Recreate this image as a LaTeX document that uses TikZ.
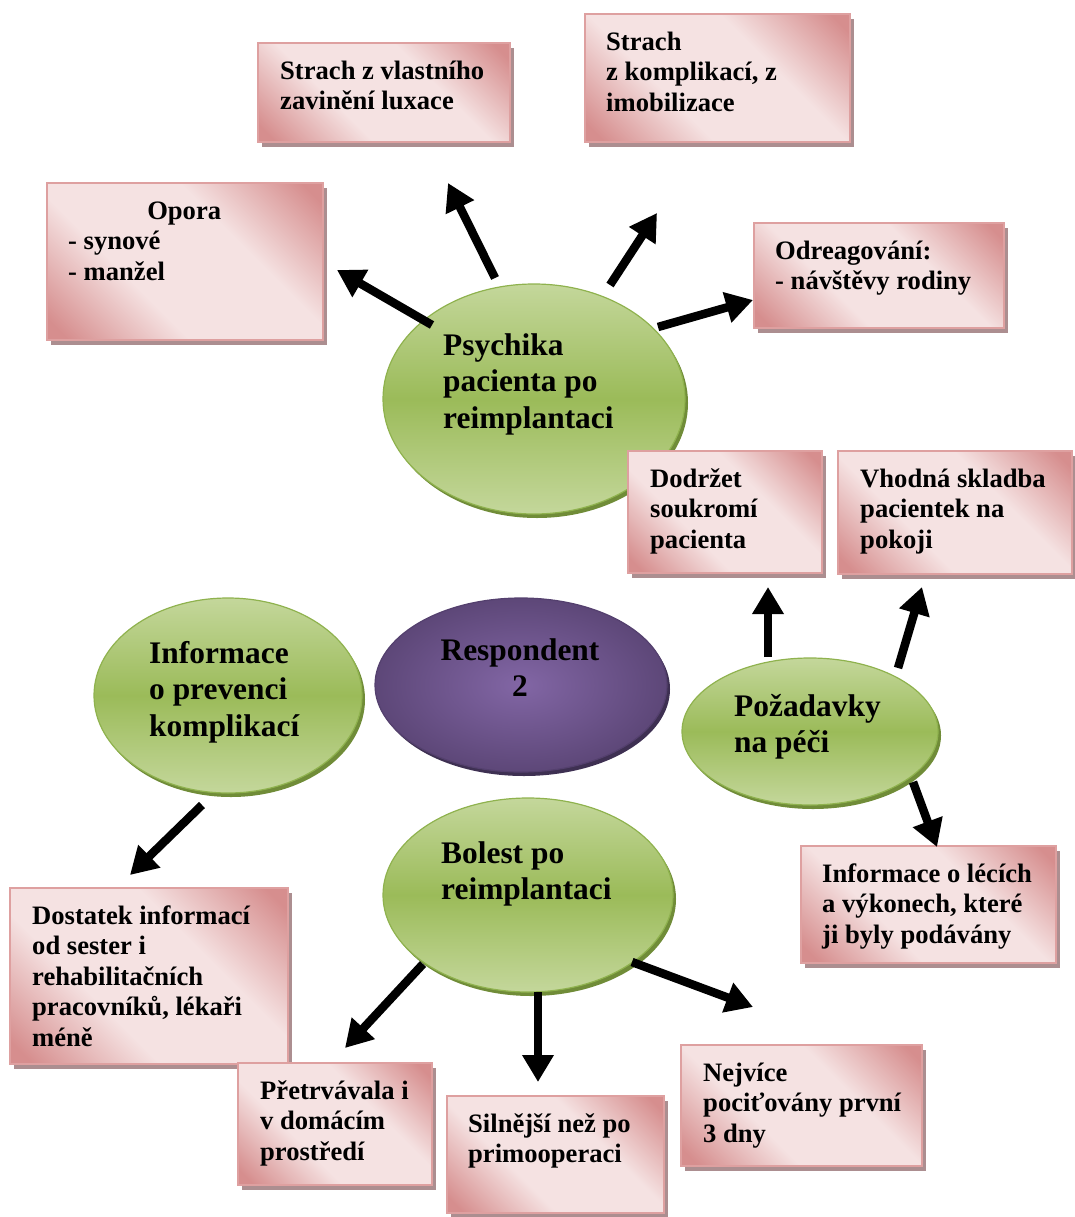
\documentclass[tikz,border=0pt]{standalone}
\usepackage{fontspec}
\setmainfont{Liberation Serif}
\usetikzlibrary{arrows.meta,shapes.geometric,shadows,calc}

\definecolor{pinkdark}{RGB}{214,142,142}
\definecolor{pinklight}{RGB}{245,226,226}
\definecolor{pinkline}{RGB}{222,160,160}
\definecolor{boxshadow}{RGB}{172,142,144}
\definecolor{greenlight}{RGB}{196,215,155}
\definecolor{greenmid}{RGB}{155,187,89}
\definecolor{greenline}{RGB}{143,178,78}
\definecolor{greenshadow}{RGB}{112,140,56}
\definecolor{purplein}{RGB}{130,102,165}
\definecolor{purpleout}{RGB}{93,71,120}
\definecolor{purpleline}{RGB}{84,64,110}
\definecolor{purpleshadow}{RGB}{62,48,82}

% diagonal rose gradient of the boxes: dark corners, light middle band
\pgfdeclareverticalshading{boxshade}{100bp}{color(0bp)=(pinkdark); color(18bp)=(pinkdark); color(38bp)=(pinklight); color(62bp)=(pinklight); color(82bp)=(pinkdark); color(100bp)=(pinkdark)}

\newcommand\boxstrut{\rule{0pt}{24pt}}
\newcommand\ellstrut{\rule{0pt}{28pt}}

\tikzset{
  pbox/.style={rectangle, draw=pinkline, line width=2.5pt, shading=boxshade, shading angle=-45,
    anchor=north west, inner sep=0pt, outer sep=0pt,
    drop shadow={shadow xshift=4pt, shadow yshift=-5pt, fill=boxshadow, opacity=1}},
  gell/.style={ellipse, draw=greenline, line width=1.2pt, top color=greenlight, bottom color=greenlight,
    middle color=greenmid, inner sep=0pt, outer sep=0pt,
    drop shadow={shadow xshift=3pt, shadow yshift=-4pt, fill=greenshadow, opacity=1}},
  pell/.style={ellipse, draw=purpleline, line width=1.2pt, inner color=purplein, outer color=purpleout,
    inner sep=0pt, outer sep=0pt,
    drop shadow={shadow xshift=3pt, shadow yshift=-4pt, fill=purpleshadow, opacity=1}},
  btxt/.style={anchor=north west, inner sep=0pt, align=left, font=\bfseries\fontsize{26.6}{30.5}\selectfont},
  etxt/.style={anchor=north west, inner sep=0pt, align=left, font=\bfseries\fontsize{31.4}{36.5}\selectfont},
  arr/.style={line width=8.5pt, -{Triangle[length=27pt,width=30pt]}},
}

\begin{document}
\begin{tikzpicture}[x=1pt,y=-1pt]
\useasboundingbox (0,0) rectangle (1074,1217);

% ---- central ellipses ----
\node[gell, minimum width=302pt, minimum height=230pt] (psy) at (534,399) {};
\node[pell, minimum width=292pt, minimum height=174pt] (resp) at (521,685) {};
\node[gell, minimum width=268pt, minimum height=195pt] (info) at (228,695.5) {};
\node[gell, minimum width=256pt, minimum height=147pt] (req) at (810,731.5) {};
\node[gell, minimum width=290pt, minimum height=194pt] (pain) at (528,895) {};

\node[etxt] (psyt) at (443,327) {\ellstrut Psychika\\pacienta po\\reimplantaci};
\node[etxt, anchor=north, align=center] (respt) at (520,632) {\ellstrut Respondent\\2};
\node[etxt] (infot) at (149,635) {\ellstrut Informace\\o prevenci\\komplikací};
\node[etxt] (reqt) at (734,688) {\ellstrut Požadavky\\na péči};
\node[etxt] (paint) at (441,835) {\ellstrut Bolest po\\reimplantaci};

% ---- rose boxes ----
\node[pbox, minimum width=252pt, minimum height=99pt] (b1) at (258,43) {};
\node[btxt] (b1t) at (280,55) {\boxstrut Strach z vlastního\\zavinění luxace};

\node[pbox, minimum width=265pt, minimum height=128pt] (b2) at (585,14) {};
\node[btxt] (b2t) at (606,26) {\boxstrut Strach\\z komplikací, z\\imobilizace};

\node[pbox, minimum width=276pt, minimum height=157pt] (b3) at (47,183) {};
\node[btxt] (b3t) at (68,195) {\boxstrut\makebox[232pt][c]{Opora}\\- synové\\- manžel};

\node[pbox, minimum width=250pt, minimum height=105pt] (b4) at (754,223) {};
\node[btxt] (b4t) at (775,235) {\boxstrut Odreagování:\\- návštěvy rodiny};

\node[pbox, minimum width=194pt, minimum height=122pt] (b5) at (628,451) {};
\node[btxt] (b5t) at (650,463) {\boxstrut Dodržet\\soukromí\\pacienta};

\node[pbox, minimum width=234pt, minimum height=123pt] (b6) at (838,451) {};
\node[btxt] (b6t) at (860,463) {\boxstrut Vhodná skladba\\pacientek na\\pokoji};

\node[pbox, minimum width=255pt, minimum height=117pt] (b7) at (801,846) {};
\node[btxt] (b7t) at (822,858) {\boxstrut Informace o lécích\\a výkonech, které\\ji byly podávány};

\node[pbox, minimum width=278pt, minimum height=176pt] (b8) at (10,888) {};
\node[btxt] (b8t) at (32,900) {\boxstrut Dostatek informací\\od sester i\\rehabilitačních\\pracovníků, lékaři\\méně};

\node[pbox, minimum width=194pt, minimum height=122pt] (b9) at (238,1063) {};
\node[btxt] (b9t) at (260,1075) {\boxstrut Přetrvávala i\\v domácím\\prostředí};

\node[pbox, minimum width=217pt, minimum height=117pt] (b10) at (447,1096) {};
\node[btxt] (b10t) at (468,1108) {\boxstrut Silnější než po\\primooperaci};

\node[pbox, minimum width=241pt, minimum height=121pt] (b11) at (681,1045) {};
\node[btxt] (b11t) at (703,1057) {\boxstrut Nejvíce\\pociťovány první\\3 dny};

% ---- arrow tips ----
\coordinate (t1) at (337,270);
\coordinate (t2) at (448,183);
\coordinate (t3) at (657,213);
\coordinate (t4) at (753,300);
\coordinate (r1) at (768,587);
\coordinate (r2) at (922,587);
\coordinate (r3) at (937,847);
\coordinate (i1) at (130,875);
\coordinate (s1) at (345,1048);
\coordinate (s2) at (538,1082);
\coordinate (s3) at (753,1007);

% ---- arrows, each leaving its ellipse near the rim ----
\draw[arr] ($(psy.center)+(-102,-74)$) -- (t1);
\draw[arr] ($(psy.center)+(-39,-121)$) -- (t2);
\draw[arr] ($(psy.center)+(76,-114)$) -- (t3);
\draw[arr] ($(psy.center)+(124,-72)$) -- (t4);
\draw[arr] ($(req.center)+(-42,-74.5)$) -- (r1);
\draw[arr] ($(req.center)+(88,-63.5)$) -- (r2);
\draw[arr] ($(req.center)+(103,50.5)$) -- (r3);
\draw[arr] ($(info.center)+(-26,109.5)$) -- (i1);
\draw[arr] ($(pain.center)+(-105,69)$) -- (s1);
\draw[arr] ($(pain.center)+(10,97)$) -- (s2);
\draw[arr] ($(pain.center)+(104,67)$) -- (s3);
\end{tikzpicture}
\end{document}
